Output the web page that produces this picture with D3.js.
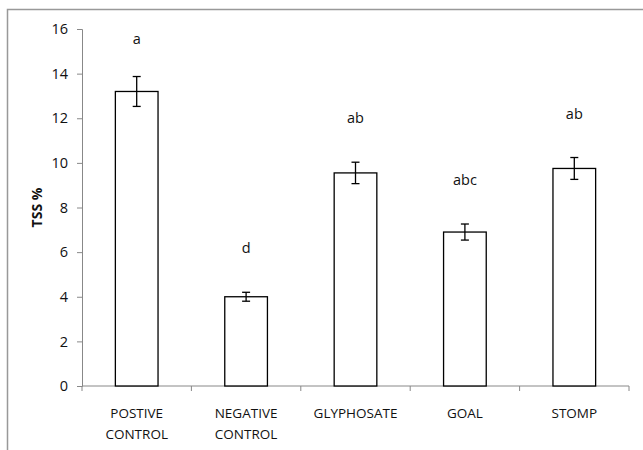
<!DOCTYPE html>
<html>
<head>
<meta charset="utf-8">
<script src="https://cdn.jsdelivr.net/npm/d3@7"></script>
<style>
  body { margin: 0; background: #fff; }
  svg { display: block; font-family: "Open Sans", sans-serif; }
</style>
</head>
<body>
<div id="chart"></div>
<script>
const categories = [["POSTIVE", "CONTROL"], ["NEGATIVE", "CONTROL"], ["GLYPHOSATE"], ["GOAL"], ["STOMP"]];
const means = [13.2, 4.0, 9.55, 6.9, 9.75];
const errors = [0.67, 0.2, 0.48, 0.36, 0.49];
const letters = ["a", "d", "ab", "abc", "ab"];
const yTicks = [0, 2, 4, 6, 8, 10, 12, 14, 16];

const width = 643;
const height = 450;
const margin = { top: 29, right: 14, bottom: 64, left: 82 };

const svg = d3.select("#chart")
  .append("svg")
  .attr("width", width)
  .attr("height", height);

// outer frame (only top and left visible)
svg.append("path")
  .attr("d", `M7.5,${height} V9.5 H${width}`)
  .attr("fill", "none")
  .attr("stroke", "#999")
  .attr("stroke-width", 1.5);

const x = d3.scaleBand()
  .domain(d3.range(categories.length))
  .range([margin.left, width - margin.right])
  .paddingInner(0.61)
  .paddingOuter(0.305);

const y = d3.scaleLinear()
  .domain([0, 16])
  .range([height - margin.bottom, margin.top]);

// Y AXIS
const yAxis = svg.append("g")
  .attr("transform", `translate(${margin.left},0)`)
  .call(d3.axisLeft(y).tickValues(yTicks).tickSize(5).tickPadding(9));
yAxis.select(".domain").attr("stroke", "#888");
yAxis.selectAll(".tick line").attr("stroke", "#888");
yAxis.selectAll("text").attr("font-size", 14.5).attr("fill", "#111").attr("font-family", "Open Sans");

// X AXIS (ticks at category boundaries)
const step = x.step();
const bounds = d3.range(categories.length + 1).map(i => margin.left + i * step);
const xg = svg.append("g");
xg.append("line")
  .attr("x1", margin.left).attr("x2", width - margin.right)
  .attr("y1", y(0)).attr("y2", y(0))
  .attr("stroke", "#888");
xg.selectAll(".bt")
  .data(bounds)
  .join("line")
  .attr("x1", d => d).attr("x2", d => d)
  .attr("y1", y(0)).attr("y2", y(0) + 5)
  .attr("stroke", "#888");

// category labels
const cl = svg.append("g");
categories.forEach((lines, i) => {
  const t = cl.append("text")
    .attr("x", x(i) + x.bandwidth() / 2)
    .attr("y", y(0) + 32)
    .attr("text-anchor", "middle")
    .attr("font-size", 13.5)
    .attr("fill", "#111");
  lines.forEach((ln, j) => {
    t.append("tspan")
      .attr("x", x(i) + x.bandwidth() / 2)
      .attr("dy", j === 0 ? 0 : 21)
      .text(ln);
  });
});

// BARS
svg.append("g")
  .selectAll("rect")
  .data(means)
  .join("rect")
  .attr("x", (d, i) => x(i))
  .attr("y", d => y(d))
  .attr("width", x.bandwidth())
  .attr("height", d => y(0) - y(d))
  .attr("fill", "#fff")
  .attr("stroke", "#000")
  .attr("stroke-width", 1.3);

// ERROR BARS
const eb = svg.append("g").attr("stroke", "#000").attr("stroke-width", 1.3);
means.forEach((m, i) => {
  const cx = x(i) + x.bandwidth() / 2;
  eb.append("line").attr("x1", cx).attr("x2", cx).attr("y1", y(m + errors[i])).attr("y2", y(m - errors[i]));
  eb.append("line").attr("x1", cx - 4).attr("x2", cx + 4).attr("y1", y(m + errors[i])).attr("y2", y(m + errors[i]));
  eb.append("line").attr("x1", cx - 4).attr("x2", cx + 4).attr("y1", y(m - errors[i])).attr("y2", y(m - errors[i]));
});

// LETTERS
svg.append("g")
  .selectAll("text")
  .data(letters)
  .join("text")
  .attr("x", (d, i) => x(i) + x.bandwidth() / 2)
  .attr("y", (d, i) => Math.max(y(means[i] + errors[i]) - 39, y(15.35)))
  .attr("text-anchor", "middle")
  .attr("font-size", 14.5)
  .attr("fill", "#111")
  .text(d => d);

// Y LABEL
svg.append("text")
  .attr("transform", `translate(42,${(y(0) + y(16)) / 2}) rotate(-90)`)
  .attr("text-anchor", "middle")
  .attr("font-size", 14)
  .attr("font-weight", "bold")
  .attr("fill", "#111")
  .text("TSS %");
</script>
</body>
</html>
